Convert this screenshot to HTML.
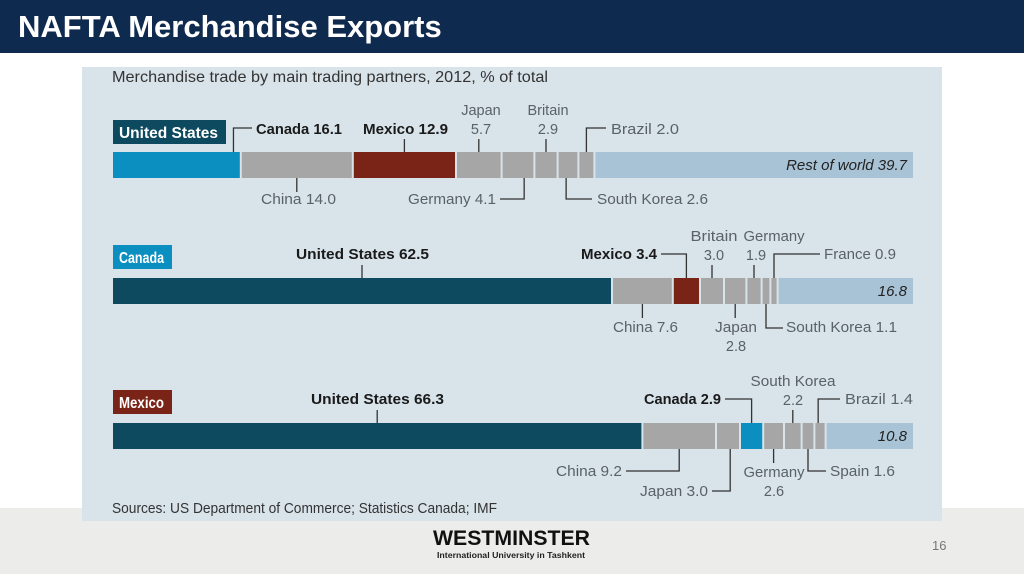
<!DOCTYPE html>
<html><head><meta charset="utf-8">
<style>
html,body{margin:0;padding:0;width:1024px;height:574px;overflow:hidden;background:#fff;font-family:"Liberation Sans",sans-serif;}
#hdr{position:absolute;left:0;top:0;width:1024px;height:53px;background:#0e2a4f;}
#hdr span{position:absolute;left:18px;top:9px;color:#fff;font-weight:bold;font-size:31px;}
#foot{position:absolute;left:0;top:508px;width:1024px;height:66px;background:#ececea;}
#panel{position:absolute;left:82px;top:67px;width:860px;height:454px;background:#d8e3ea;}
svg{position:absolute;left:0;top:0;}
</style></head><body>
<div id="hdr"><span>NAFTA Merchandise Exports</span></div>
<div id="foot"></div>
<div id="panel"></div>
<svg id="chart" width="1024" height="574"
 style="font-family:'Liberation Sans',sans-serif;">
<text x="112" y="82" font-size="16" fill="#333" textLength="436" lengthAdjust="spacingAndGlyphs">Merchandise trade by main trading partners, 2012, % of total</text>
<text x="112" y="513" font-size="15" fill="#333" textLength="385" lengthAdjust="spacingAndGlyphs">Sources: US Department of Commerce; Statistics Canada; IMF</text>
<text x="433" y="545" font-size="21" font-weight="bold" fill="#111" textLength="157" lengthAdjust="spacingAndGlyphs">WESTMINSTER</text>
<text x="437" y="558" font-size="8" font-weight="bold" fill="#222" textLength="148" lengthAdjust="spacingAndGlyphs">International University in Tashkent</text>
<text x="932" y="550" font-size="13" fill="#777">16</text>
</svg>
<script>
const usCats=["Canada","China","Mexico","Japan","Germany","Britain","South Korea","Brazil","Rest of world"];
const usVals=[16.1,14.0,12.9,5.7,4.1,2.9,2.6,2.0,39.7];
const caCats=["United States","China","Mexico","Britain","Japan","Germany","South Korea","France","Rest of world"];
const caVals=[62.5,7.6,3.4,3.0,2.8,1.9,1.1,0.9,16.8];
const mxCats=["United States","China","Japan","Canada","Germany","South Korea","Spain","Brazil","Rest of world"];
const mxVals=[66.3,9.2,3.0,2.9,2.6,2.2,1.6,1.4,10.8];

const NS="http://www.w3.org/2000/svg";
const svg=document.getElementById('chart');
const X0=113, PX=8.0;
const xs=v=>X0+v*PX;
const colorOf=c=>c==="United States"?"#0d4a5f":c==="Canada"?"#0a8fc0":c==="Mexico"?"#7a2317":c==="Rest of world"?"#a9c3d6":"#a6a6a6";
function mk(tag,attrs){const e=document.createElementNS(NS,tag);for(const k in attrs)e.setAttribute(k,attrs[k]);svg.appendChild(e);return e;}
const FS=14.5;

function drawBlock(name,tagColor,tagW,tagY,barY,cats,vals,labels,restY){
  const tg=mk('rect',{x:113,y:tagY,width:tagW,height:24,fill:tagColor});
  
  
  const tt=mk('text',{x:119,y:tagY+18,'font-size':16,'font-weight':'bold',fill:'#fff',textLength:tagW-14,lengthAdjust:'spacingAndGlyphs'});
  tt.textContent=name;
  
  
  let acc=0;const segs=[];
  cats.forEach((c,i)=>{
    const x1=xs(acc),x2=xs(acc+vals[i]);acc+=vals[i];
    segs.push([x1,x2]);
    const r=mk('rect',{x:x1,y:barY,width:Math.max(0,x2-x1-(i<cats.length-1?2:0)),height:26,fill:colorOf(c)});
    
    
  });
  const rt=mk('text',{x:xs(acc)-6,y:barY+18,'text-anchor':'end','font-size':15,'font-style':'italic',fill:'#222'});
  rt.textContent=restY;
  
  
  labels.forEach(L=>{
    const i=cats.indexOf(L.c);const f=L.f===undefined?0.5:L.f;
    const sx=segs[i][0]+(segs[i][1]-segs[i][0]-2)*f;
    let d;
    if(L.top){
      if(L.ex!==undefined) d=`M${sx},${barY} V${L.ey} H${L.ex}`;
      else d=`M${sx},${barY} V${barY-13}`;
    } else {
      if(L.ex!==undefined) d=`M${sx},${barY+26} V${L.ey} H${L.ex}`;
      else d=`M${sx},${barY+26} V${barY+40}`;
    }
    const p=mk('path',{d:d,stroke:'#333','stroke-width':1.3,fill:'none'});
    
    
    const val=vals[i].toFixed(1);
    const lines=L.two?[L.c,val]:[L.c+' '+val];
    lines.forEach((s,k)=>{
      const tx=(k===1&&L.vx!==undefined)?L.vx:L.x;
      const t=mk('text',{x:tx,y:L.y+k*19,'text-anchor':L.a||'start','font-size':FS,
        'font-weight':L.b?'bold':'normal',fill:L.b?'#1a1a1a':'#5a6168'});
      if(L.w&&k===0){t.setAttribute('textLength',L.w);t.setAttribute('lengthAdjust','spacingAndGlyphs');}
      t.textContent=s;
      
      
    });
  });
}

drawBlock("United States","#0d4a5f",113,120,152,usCats,usVals,[
 {c:"Canada",top:1,b:1,x:256,y:134,ey:128,ex:252,f:0.95,w:86},
 {c:"Mexico",top:1,b:1,x:363,y:134,w:85},
 {c:"Japan",top:1,two:1,a:'middle',x:481,y:115},
 {c:"Britain",top:1,two:1,a:'middle',x:548,y:115},
 {c:"Brazil",top:1,x:611,y:134,ey:128,ex:606,w:68},
 {c:"China",top:0,x:261,y:204,w:75},
 {c:"Germany",top:0,a:'end',x:496,y:204,ey:199,ex:500,f:0.7,w:88},
 {c:"South Korea",top:0,x:597,y:204,ey:199,ex:592,f:0.4,w:111}
],"Rest of world 39.7");

drawBlock("Canada","#0a8fc0",59,245,278,caCats,caVals,[
 {c:"United States",top:1,b:1,x:296,y:259,w:133},
 {c:"Mexico",top:1,b:1,a:'end',x:657,y:259,ey:254,ex:661,w:76},
 {c:"Britain",top:1,two:1,a:'middle',x:714,y:241,w:47},
 {c:"Germany",top:1,two:1,a:'middle',x:774,y:241,vx:756,w:61},
 {c:"France",top:1,x:824,y:259,ey:254,ex:820,w:72},
 {c:"China",top:0,x:613,y:332,w:65},
 {c:"Japan",top:0,two:1,a:'middle',x:736,y:332,w:42},
 {c:"South Korea",top:0,x:786,y:332,ey:328,ex:783,w:111}
],"16.8");

drawBlock("Mexico","#7a2317",59,390,423,mxCats,mxVals,[
 {c:"United States",top:1,b:1,x:311,y:404,w:133},
 {c:"Canada",top:1,b:1,a:'end',x:721,y:404,ey:399,ex:725,w:77},
 {c:"South Korea",top:1,two:1,a:'middle',x:793,y:386,w:85},
 {c:"Brazil",top:1,x:845,y:404,ey:399,ex:840,f:0.3,w:68},
 {c:"China",top:0,a:'end',x:622,y:476,ey:471,ex:626,w:66},
 {c:"Japan",top:0,a:'end',x:708,y:496,ey:491,ex:712,f:0.6,w:68},
 {c:"Germany",top:0,two:1,a:'middle',x:774,y:477,w:61},
 {c:"Spain",top:0,x:830,y:476,ey:471,ex:826,w:65}
],"10.8");
</script>
</body></html>
